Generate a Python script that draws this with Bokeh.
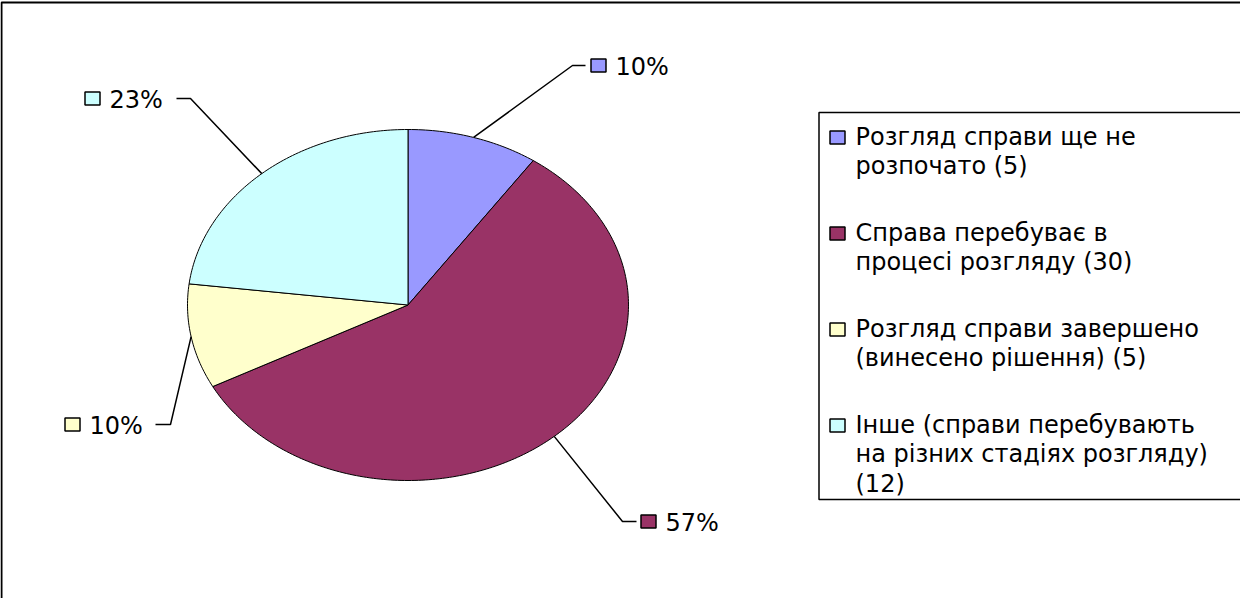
import math
from bokeh.plotting import figure
from bokeh.models import Range1d
from bokeh.core.properties import value
from bokeh.embed import file_html
from bokeh.resources import INLINE

# ---- data ----
categories = [
    "Розгляд справи ще не\nрозпочато (5)",
    "Справа перебуває в\nпроцесі розгляду (30)",
    "Розгляд справи завершено\n(винесено рішення) (5)",
    "Інше (справи перебувають\nна різних стадіях розгляду)\n(12)",
]
counts = [5, 30, 5, 12]
pct_labels = ["10%", "57%", "10%", "23%"]
colors = ["#9999FF", "#993366", "#FFFFCC", "#CCFFFF"]

# ---- layout (screen pixels) ----
W, H = 1240, 598
FONT = "DejaVu Sans"
FS = "24px"
cx, cy, rx, ry = 415.5, 312.5, 220.5, 175.5
# per label: elbow x, elbow y, stub end x, square center x
label_layout = [
    (580, 73, 593, 606),
    (630, 529, 644, 656),
    (178, 432, 163, 80),
    (198, 106, 184, 100),
]

p = figure(width=W, height=H, output_backend="svg", toolbar_location=None,
           x_range=Range1d(8, 8 + W), y_range=Range1d(8 + H, 8),
           min_border=0, outline_line_color=None)
p.axis.visible = False
p.grid.visible = False
p.background_fill_color = "white"
p.border_fill_color = "white"

# outer frame
p.quad(left=[9], right=[1400], top=[10], bottom=[800], fill_color=None,
       line_color="black", line_width=2)

# pie slices
total = float(sum(counts))
xs, ys, mids = [], [], []
cum = 0.0
for c in counts:
    a0 = cum / total * 2 * math.pi
    cum += c
    a1 = cum / total * 2 * math.pi
    n = max(8, int((a1 - a0) / (2 * math.pi) * 400))
    px = [cx]
    py = [cy]
    for k in range(n + 1):
        a = a0 + (a1 - a0) * k / n
        px.append(cx + rx * math.sin(a))
        py.append(cy - ry * math.cos(a))
    xs.append(px)
    ys.append(py)
    mids.append((a0 + a1) / 2)
p.patches(xs, ys, fill_color=colors, line_color="black", line_width=1)

# leader lines + percent labels
for i, (ex, ey, sx, sqx) in enumerate(label_layout):
    m = mids[i]
    edge_x = cx + rx * math.sin(m)
    edge_y = cy - ry * math.cos(m)
    p.line([edge_x, ex, sx], [edge_y, ey, ey], line_color="black", line_width=1.5)
    p.rect([sqx], [ey], width=15, height=13, fill_color=colors[i],
           line_color="black", line_width=1.5)
    p.text([sqx + 17], [ey + 1], text=[pct_labels[i]], text_font=value(FONT),
           text_font_size=FS, text_baseline="middle", text_align="left",
           text_color="black")

# legend box
p.quad(left=[826.5], right=[1400], top=[120], bottom=[507], fill_color="white",
       line_color="black", line_width=1.5)
y0 = 143
for i, lab in enumerate(categories):
    lines = lab.split("\n")
    p.rect([845], [y0 + 2], width=15, height=13, fill_color=colors[i],
           line_color="black", line_width=1.5)
    for j, ln in enumerate(lines):
        p.text([863], [y0 + 1 + 29.5 * j], text=[ln], text_font=value(FONT),
               text_font_size=FS, text_baseline="middle", text_align="left",
               text_color="black")
    y0 += 96

open("out.html", "w").write(file_html(p, INLINE))
